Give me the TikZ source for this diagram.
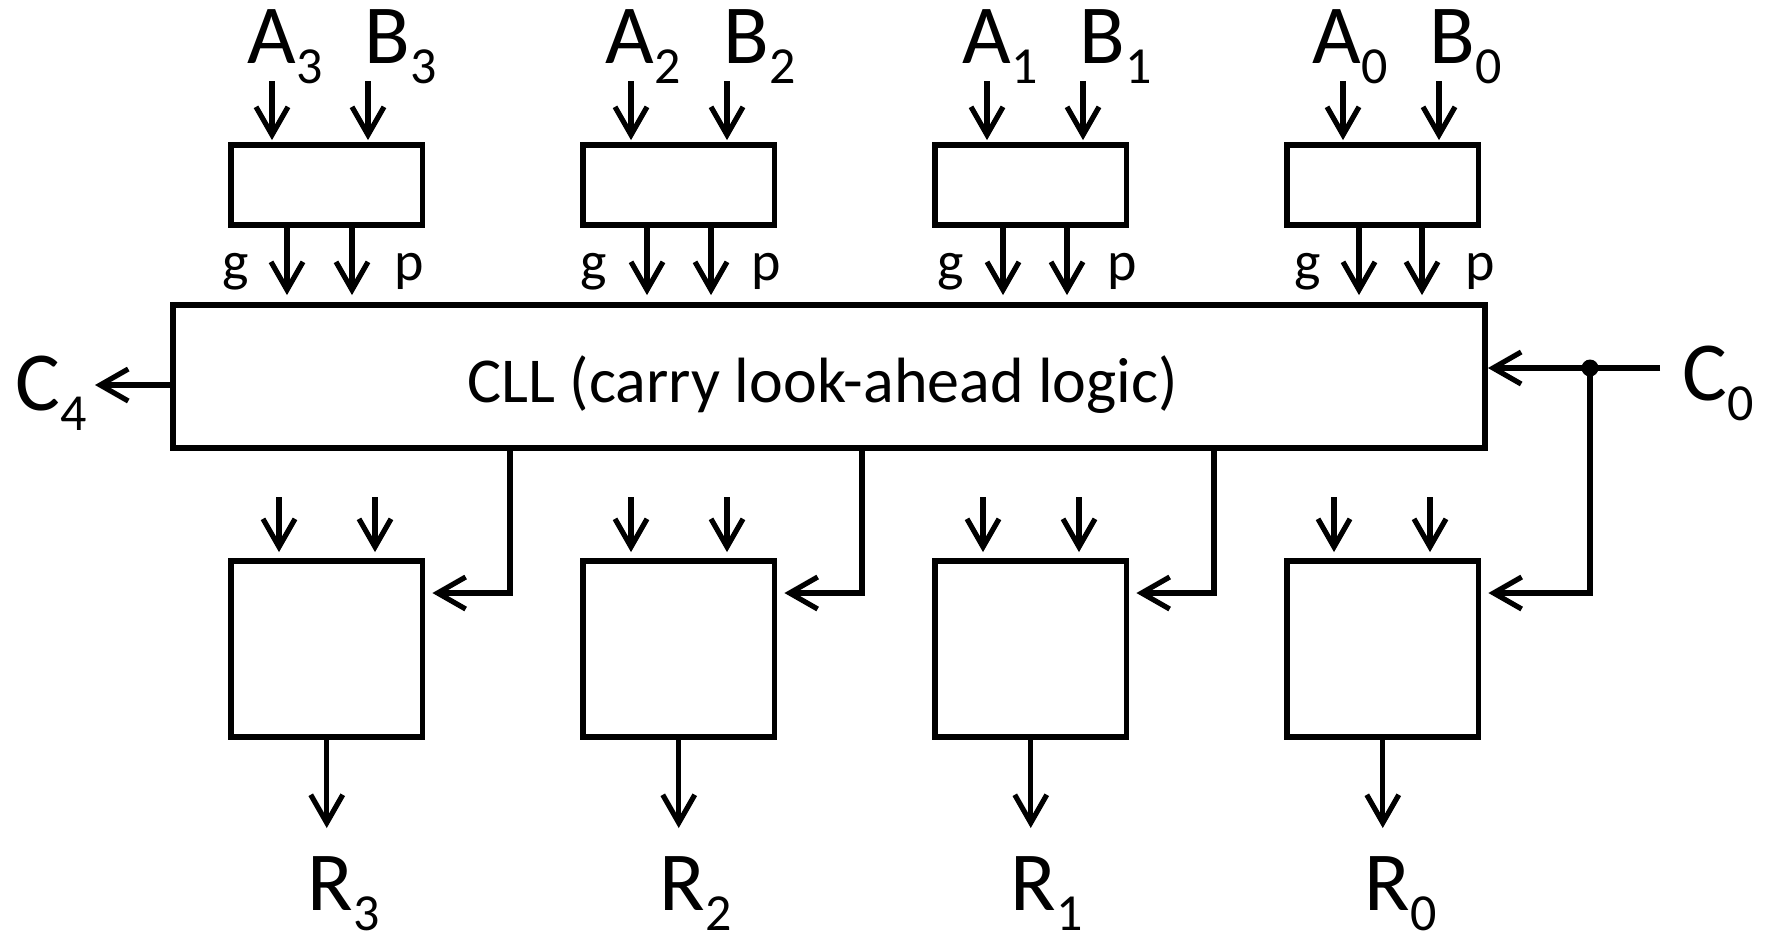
\documentclass[tikz,border=0pt]{standalone}
\usepackage{fontspec}
\setmainfont{Carlito}
\usetikzlibrary{arrows.meta,calc}
\newcommand{\lsub}[1]{\raisebox{-10pt}{\fontsize{26pt}{26pt}\selectfont #1}}
\begin{document}
\begin{tikzpicture}[x=0.5pt,y=-0.5pt,line width=2.6pt,
  box/.style={draw,line width=2.9pt,inner sep=0pt,minimum width=95.75pt},
  topbox/.style={box,minimum height=40pt},
  botbox/.style={box,minimum height=88pt},
  arr/.style={-{Straight Barb[length=14pt,width=16pt]}},
  big/.style={inner sep=0pt,anchor=base west,font=\fontsize{42pt}{42pt}\selectfont},
  small/.style={inner sep=0pt,anchor=base west,font=\fontsize{28pt}{28pt}\selectfont},
  mid/.style={inner sep=0pt,anchor=base west,font=\fontsize{32pt}{32pt}\selectfont},
  junction/.style={circle,fill,inner sep=0pt,minimum size=8.5pt}]
\useasboundingbox (0,0) rectangle (1775,939);

% CLL block
\node[box,minimum width=656pt,minimum height=71.5pt] (cll) at (829,376.5) {};
\node[mid] (clltext) at (465,402) {CLL (carry look-ahead logic)};

\foreach \i/\bl/\ax/\bx/\gx/\px/\atx/\btx/\gtx/\ptx/\cx/\rtx/\ix/\jx in
  {3/231/272/368/287/352/245/362/220/392/510/305/279/375,
   2/583/631/727/647/711/603/721/578/749/862/657/631/727,
   1/935/987/1083/1003/1067/960/1077/935/1105/1214/1008/983/1079,
   0/1287/1343/1439/1359/1422/1310/1427/1292/1463/1590/1362/1334/1430}{
  % boxes
  \node[topbox] (tb\i) at ({\bl+95.75},185) {};
  \node[botbox] (bb\i) at ({\bl+95.75},649) {};
  % input labels
  \node[big] (A\i) at (\atx,63) {A\lsub{\i}};
  \node[big] (B\i) at (\btx,63) {B\lsub{\i}};
  \node[small] (g\i) at (\gtx,280) {g};
  \node[small] (p\i) at (\ptx,280) {p};
  % inputs to top box
  \coordinate (as\i) at (\ax,81);
  \coordinate (bs\i) at (\bx,81);
  \draw[arr,shorten >=1pt] (as\i) -- (as\i |- tb\i.north);
  \draw[arr,shorten >=1pt] (bs\i) -- (bs\i |- tb\i.north);
  % g and p to CLL
  \coordinate (gx\i) at (\gx,0);
  \coordinate (px\i) at (\px,0);
  \draw[arr,shorten >=3.5pt] (gx\i |- tb\i.south) -- (gx\i |- cll.north);
  \draw[arr,shorten >=3.5pt] (px\i |- tb\i.south) -- (px\i |- cll.north);
  % inputs to bottom box
  \coordinate (is\i) at (\ix,497);
  \coordinate (js\i) at (\jx,497);
  \draw[arr,shorten >=3pt] (is\i) -- (is\i |- bb\i.north);
  \draw[arr,shorten >=3pt] (js\i) -- (js\i |- bb\i.north);
  % output
  \coordinate (ro\i) at ({\bl+95.75},828);
  \draw[arr] (bb\i.south) -- (ro\i);
  \node[big] (R\i) at (\rtx,910) {R\lsub{\i}};
  % carry corner
  \coordinate (ck\i) at (\cx,593);
}

% carries from CLL
\foreach \i in {3,2,1}{
  \draw[arr,shorten >=3.5pt] (ck\i |- cll.south) -- (ck\i) -- (ck\i -| bb\i.east);
}

% C0 input
\coordinate (c0s) at (1660,368);
\node[junction] (dot) at (1590,368) {};
\draw[arr] (c0s) -- (c0s -| cll.east);
\draw[arr,shorten >=3.5pt] (dot.center) -- (ck0) -- (ck0 -| bb0.east);
\node[big] (C0) at (1680,400) {C\lsub{0}};

% C4 output
\coordinate (c4tip) at (95,385);
\draw[arr] (c4tip -| cll.west) -- (c4tip);
\node[big] (C4) at (13,410) {C\lsub{4}};
\end{tikzpicture}
\end{document}
